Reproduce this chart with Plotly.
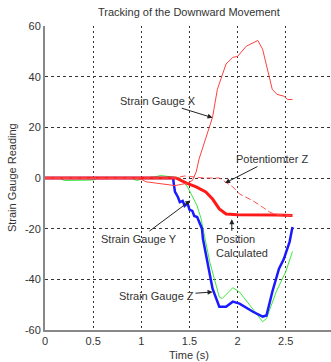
import plotly.graph_objects as go

# ---- data ----
t_gauge_x = [0, 0.3, 0.6, 0.9, 1.0, 1.05, 1.15, 1.25, 1.35, 1.42, 1.48, 1.53, 1.57, 1.6, 1.67, 1.74, 1.79,
             1.84, 1.88, 1.95, 2.0, 2.09, 2.16, 2.21, 2.26, 2.31, 2.36, 2.41, 2.48, 2.52, 2.57]
v_gauge_x = [0, 0, -0.3, 0, -0.5, -1.5, -2, -2.5, -3, -2.5, -2, -1, 2.4, 7.5, 15.4, 24, 35,
             41, 45, 47.6, 48, 52, 53.5, 54.3, 50.8, 43, 35, 33, 32.3, 31, 31]

t_pot_z = [0, 1.35, 1.45, 1.55, 1.65, 1.81, 1.88, 1.95, 2.02, 2.16, 2.26, 2.33, 2.4, 2.57]
v_pot_z = [0, 0, 0.8, 0.3, 0, 0, -1.6, -3.5, -6.3, -9, -11.5, -13.4, -14.5, -14.8]

t_position = [0, 1.36, 1.47, 1.57, 1.67, 1.74, 1.81, 1.88, 2.0, 2.2, 2.4, 2.57]
v_position = [0, 0, -2, -3.5, -5.5, -8.3, -12.2, -14.2, -14.5, -14.5, -14.6, -14.8]

t_gauge_z = [0, 1.33, 1.34, 1.35, 1.38, 1.4, 1.43, 1.45, 1.48, 1.5, 1.53, 1.55, 1.58, 1.6, 1.63, 1.64,
             1.69, 1.74, 1.81, 1.88, 1.95, 2.02, 2.16, 2.26, 2.3, 2.36, 2.43, 2.48, 2.54, 2.57]
v_gauge_z = [0, 0, -3, -5.5, -7.5, -9.5, -9, -11, -10, -12.5, -13, -15, -15.4, -17, -20, -24,
             -34.6, -43.7, -50.8, -50.8, -48.8, -49.6, -52.8, -54.7, -54.3, -45, -35.8, -32, -25.2, -19.3]

t_gauge_y = [0, 0.15, 0.2, 0.5, 0.55, 0.9, 0.95, 1.05, 1.15, 1.2, 1.3, 1.4, 1.48, 1.53, 1.58, 1.62,
             1.66, 1.71, 1.76, 1.81, 1.84, 1.95, 2.02, 2.16, 2.26, 2.3, 2.4, 2.5, 2.57]
v_gauge_y = [0, 0, -1, -0.8, 0, 0, -1, 0, 0.5, 1, 0.5, 0, -3.5, -7.5, -11, -16,
             -23, -33, -40, -47, -47.6, -43.3, -45, -51.6, -56.7, -55.5, -45, -37, -29]

x_ticks = [0, 0.5, 1, 1.5, 2, 2.5]
y_ticks = [-60, -40, -20, 0, 20, 40, 60]

title_text = "Tracking of the Downward Movement"
x_title = "Time (s)"
y_title = "Strain Gauge Reading"

# annotations with arrows: (text, tip_t, tip_v, ax, ay)
labels = [
    ("Strain Gauge X", 1.74, 23.8, -55, -17),
    ("Potentiomter Z", 1.87, -2.0, 47, -24),
    ("Strain Gauge Y", 1.51, -8.9, -51, 38),
    ("Strain Gauge Z", 1.74, -45.0, -56, 4),
]
# left-aligned block label with separate arrow
pos_label = "Position<br>Calculated"
pos_label_t, pos_label_v = 1.755, -27.0
pos_arrow_t, pos_arrow_v = 1.94, -16.3

FONT = "Liberation Sans, Arial, sans-serif"

fig = go.Figure()
fig.add_trace(go.Scatter(x=t_gauge_y, y=v_gauge_y, mode="lines",
                         line=dict(color="#3ee83e", width=1)))
fig.add_trace(go.Scatter(x=t_gauge_z, y=v_gauge_z, mode="lines",
                         line=dict(color="#1a1aff", width=2.5)))
fig.add_trace(go.Scatter(x=t_position, y=v_position, mode="lines",
                         line=dict(color="#ff1a1a", width=3)))
fig.add_trace(go.Scatter(x=t_gauge_x, y=v_gauge_x, mode="lines",
                         line=dict(color="#ff4040", width=1)))
fig.add_trace(go.Scatter(x=t_pot_z, y=v_pot_z, mode="lines",
                         line=dict(color="#ff5050", width=1, dash="6px,3px")))

afont = dict(family=FONT, size=11, color="#333")
annotations = []
for text, tx, tv, ax, ay in labels:
    annotations.append(dict(x=tx, y=tv, xref="x", yref="y", text=text, showarrow=True,
                            ax=ax, ay=ay, arrowhead=2, arrowsize=1, arrowwidth=1,
                            arrowcolor="#222", font=afont))
annotations.append(dict(x=pos_arrow_t, y=pos_arrow_v, xref="x", yref="y", text="",
                        showarrow=True, ax=0, ay=13, arrowhead=2, arrowsize=1,
                        arrowwidth=1, arrowcolor="#222"))
annotations.append(dict(x=pos_label_t, y=pos_label_v, xref="x", yref="y", text=pos_label,
                        showarrow=False, xanchor="left", yanchor="middle", align="left",
                        font=afont))
annotations.append(dict(text=title_text, xref="paper", yref="paper", x=0.502, y=1.047,
                        xanchor="center", yanchor="middle", showarrow=False, font=afont))
annotations.append(dict(text=x_title, xref="paper", yref="paper", x=0.502, y=-0.082,
                        xanchor="center", yanchor="middle", showarrow=False, font=afont))
annotations.append(dict(text=y_title, xref="paper", yref="paper", x=-0.115, y=0.5,
                        xanchor="center", yanchor="middle", showarrow=False, textangle=-90,
                        font=afont))

fig.update_layout(
    width=331, height=362,
    margin=dict(l=45, r=0, t=26, b=32),
    paper_bgcolor="white", plot_bgcolor="white",
    showlegend=False,
    annotations=annotations,
    font=dict(family=FONT, size=11, color="#333"),
)
fig.update_xaxes(range=[0, 2.97], tickvals=x_ticks, ticktext=[str(v) for v in x_ticks],
                 showgrid=True, gridcolor="#333", griddash="2px,3px", gridwidth=1,
                 showline=True, linecolor="#888", linewidth=2, zeroline=False,
                 ticks="", tickfont=dict(size=11, color="#333"))
fig.update_yaxes(range=[-60, 60], tickvals=y_ticks, ticktext=[str(v) for v in y_ticks],
                 showgrid=True, gridcolor="#333", griddash="3px,3px", gridwidth=1,
                 showline=True, linecolor="#888", linewidth=2, zeroline=False,
                 ticks="", tickfont=dict(size=11, color="#333"))

fig.write_html("out.html")
